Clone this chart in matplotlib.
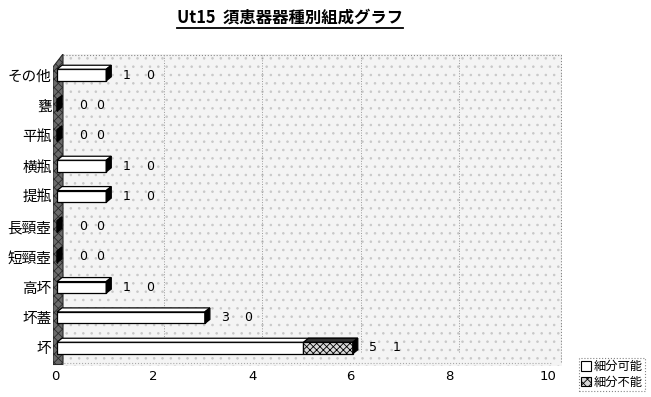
import numpy as np
import matplotlib
matplotlib.use("Agg")
import matplotlib.pyplot as plt
from matplotlib.patches import Polygon, Patch
from matplotlib.lines import Line2D

plt.rcParams['font.family'] = ['Noto Sans CJK JP', 'DejaVu Sans']
plt.rcParams['hatch.linewidth'] = 0.6

# data (bottom to top)
categories = ['坏', '坏蓋', '高坏', '短頸壺', '長頸壺', '提瓶', '横瓶', '平瓶', '甕', 'その他']
can_split = [5, 3, 1, 0, 0, 1, 1, 0, 0, 1]
cannot_split = [1, 0, 0, 0, 0, 0, 0, 0, 0, 0]
series_names = ['細分可能', '細分不能']
xticks = [0, 2, 4, 6, 8, 10]
title = 'Ut15  須恵器器種別組成グラフ'

W, H = 651, 397
fig = plt.figure(figsize=(W / 100, H / 100), dpi=100)
L, R, T, B = 53, 562, 54, 366
ax = fig.add_axes([L / W, (H - B) / H, (R - L) / W, (B - T) / H])

px_x = 49.3   # pixels per unit
px_y = 30.33  # pixels per category
ax.set_xlim((L - 55) / px_x, (R - 55) / px_x)
ax.set_ylim(-(B - 348) / px_y, 9 + (75 - T) / px_y)

for s in ax.spines.values():
    s.set_visible(False)
ax.set_facecolor('white')

xmin, xmax = ax.get_xlim()
ymin, ymax = ax.get_ylim()
wall_dx = 10 / px_x
wall_dy = 13 / px_y

# stippled background (back wall + floor)
bg = Polygon([(xmin + wall_dx, ymin), (xmin + wall_dx, ymax), (xmax, ymax), (xmax, ymin)],
             closed=True, facecolor='#f4f4f4', edgecolor='#c8c8c8', hatch='..',
             lw=0, zorder=0)
ax.add_patch(bg)
# back wall outline (dotted)
ax.plot([xmin + wall_dx, xmax - 0.02, xmax - 0.02], [ymax - 0.02, ymax - 0.02, ymin + 0.1],
        ls=':', color='#888888', lw=0.8, zorder=1)
ax.plot([0, xmax - 0.2], [ymin + 0.1, ymin + 0.1], ls=':', color='#aaaaaa', lw=0.8, zorder=1)

# back gridlines
for t in xticks[1:-1]:
    ax.plot([t + wall_dx, t + wall_dx], [ymin + 0.45, ymax - 0.02], ls=':', color='#999999',
            lw=0.7, zorder=1)

# left wall
wall = Polygon([(xmin, ymin + 0.05), (xmin, ymax - wall_dy), (xmin + wall_dx, ymax),
                (xmin + wall_dx, ymin + 0.05)],
               closed=True, facecolor='#6a6a6a', edgecolor='#2a2a2a', hatch='xxxx', lw=0.8, zorder=2)
ax.add_patch(wall)

# bars
y = np.arange(len(categories))
h = 0.38
dx = 5 / px_x
dy = 4 / px_y
b1 = ax.barh(y, can_split, height=h, left=0.04, color='white', edgecolor='black', lw=0.9, zorder=4)
b2 = ax.barh(y, cannot_split, height=h, left=np.array(can_split) + 0.04, color='#d8d8d8',
             edgecolor='black', hatch='xxxxx', lw=0.9, zorder=4)

totals = np.array(can_split) + np.array(cannot_split)
for i in range(len(categories)):
    x0 = 0.04
    x1 = x0 + totals[i]
    yt = y[i] + h / 2
    yb = y[i] - h / 2
    # top face
    top = Polygon([(x0, yt), (x0 + dx, yt + dy), (x1 + dx, yt + dy), (x1, yt)], closed=True,
                  facecolor='white', edgecolor='black', lw=0.9, zorder=5)
    ax.add_patch(top)
    if cannot_split[i] > 0:
        xs = x0 + can_split[i]
        top2 = Polygon([(xs, yt), (xs + dx, yt + dy), (x1 + dx, yt + dy), (x1, yt)], closed=True,
                       facecolor='#333333', edgecolor='black', lw=0.9, zorder=5)
        ax.add_patch(top2)
    side = Polygon([(x1, yb), (x1 + dx, yb + dy), (x1 + dx, yt + dy), (x1, yt)], closed=True,
                   facecolor='black', edgecolor='black', lw=0.9, zorder=5)
    ax.add_patch(side)

    # value labels
    if totals[i] > 0:
        p1 = totals[i] + 0.45
        p2 = p1 + 0.47
    else:
        p1 = 0.57
        p2 = 0.92
    ax.text(p1, y[i], str(can_split[i]), ha='center', va='center', fontsize=9,
            family='DejaVu Sans', zorder=6)
    ax.text(p2, y[i], str(cannot_split[i]), ha='center', va='center', fontsize=9,
            family='DejaVu Sans', zorder=6)

ax.set_yticks(y)
ax.set_yticklabels(categories, fontsize=10.5)
ax.tick_params(axis='y', length=0, pad=1)
ax.set_xticks(xticks)
ax.set_xticklabels([str(t) for t in xticks], fontsize=9.5, family='DejaVu Sans')
ax.tick_params(axis='x', length=0, pad=3)

# title with underline
tt = fig.text(290 / W, 1 - 18 / H, title, ha='center', va='center', fontsize=11.8,
              fontweight='bold')
fig.canvas.draw()
bb = tt.get_window_extent()
fig.add_artist(Line2D([bb.x0 / W, bb.x1 / W], [(bb.y0 - 1) / H, (bb.y0 - 1) / H],
                      transform=fig.transFigure, color='black', lw=1.3))

# legend
handles = [Patch(facecolor='white', edgecolor='black', lw=0.8),
           Patch(facecolor='#d8d8d8', edgecolor='black', hatch='xxxx', lw=0.8)]
leg = fig.legend(handles, series_names, loc='lower right', bbox_to_anchor=(645 / W, 6 / H),
                 fontsize=8.8, frameon=True, fancybox=False, handlelength=0.8, handleheight=0.8,
                 handletextpad=0.2, borderpad=0.2, labelspacing=0.2, borderaxespad=0)
leg.get_frame().set_linestyle(':')
leg.get_frame().set_edgecolor('#666666')
leg.get_frame().set_linewidth(0.8)

fig.savefig('out.png', dpi=100)
